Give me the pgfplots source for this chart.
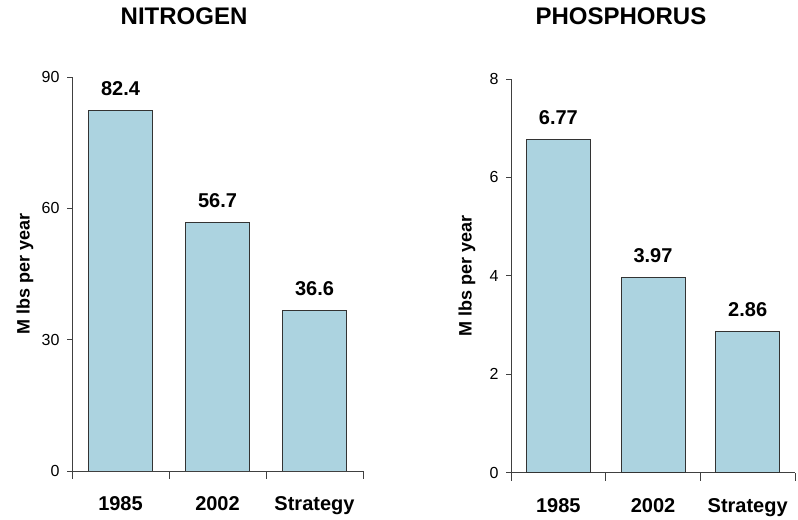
\documentclass[border=0pt]{standalone}
\usepackage{fontspec}
\setmainfont{Liberation Sans}
\usepackage{pgfplots}
\pgfplotsset{compat=1.18}
\definecolor{barfill}{RGB}{172,211,224}
\definecolor{axgray}{RGB}{64,64,64}
\pgfkeys{/pgf/number format/assume math mode=true}
\pgfplotsset{
  panel/.style={
    scale only axis,
    anchor=south west,
    axis lines*=left,
    axis line style={axgray, line width=0.9bp},
    xmin=-0.5, xmax=2.5, ymin=0,
    xtick={-0.5,0.5,1.5,2.5},
    x tick label as interval,
    xticklabels={1985,2002,Strategy},
    tick align=outside,
    tick style={axgray, line width=0.9bp},
    major tick length=8bp,
    ytick style={/pgfplots/major tick length=5bp},
    xticklabel style={font=\fontsize{20bp}{24bp}\selectfont\bfseries, yshift=-14bp},
    yticklabel style={font=\fontsize{16bp}{19bp}\selectfont, xshift=-1bp},
    ylabel={M lbs per year},
    ylabel style={font=\fontsize{18bp}{21bp}\selectfont\bfseries, anchor=center},
    title style={font=\fontsize{24bp}{28bp}\selectfont\bfseries, anchor=center},
    ybar, bar width=64bp, bar shift=0pt,
    nodes near coords,
    nodes near coords style={black, font=\fontsize{20bp}{24bp}\selectfont\bfseries, anchor=south, yshift=11bp, /pgf/number format/fixed, /pgf/number format/precision=2},
  },
  bars/.style={fill=barfill, draw=black!80, line width=0.9bp},
}
\begin{document}
\begin{tikzpicture}[x=1bp,y=1bp]
\path[use as bounding box] (0,0) rectangle (798,520);
\begin{axis}[panel,
  at={(72bp,49bp)}, width=291bp, height=394bp,
  ymax=90, ytick={0,30,60,90},
  ylabel style={at={(axis description cs:-0.1615,0.5)}},
  title={NITROGEN},
  title style={at={(axis description cs:0.385,1.14)}},
]
\addplot[bars] coordinates {(0,82.4) (1,56.7) (2,36.6)};
\end{axis}
\begin{axis}[panel,
  at={(511bp,47.3bp)}, width=284bp, height=393.7bp,
  ymax=8, ytick={0,2,4,6,8},
  ylabel style={at={(axis description cs:-0.155,0.5)}},
  title={PHOSPHORUS},
  title style={at={(axis description cs:0.387,1.145)}},
]
\addplot[bars] coordinates {(0,6.77) (1,3.97) (2,2.86)};
\end{axis}
\end{tikzpicture}
\end{document}
